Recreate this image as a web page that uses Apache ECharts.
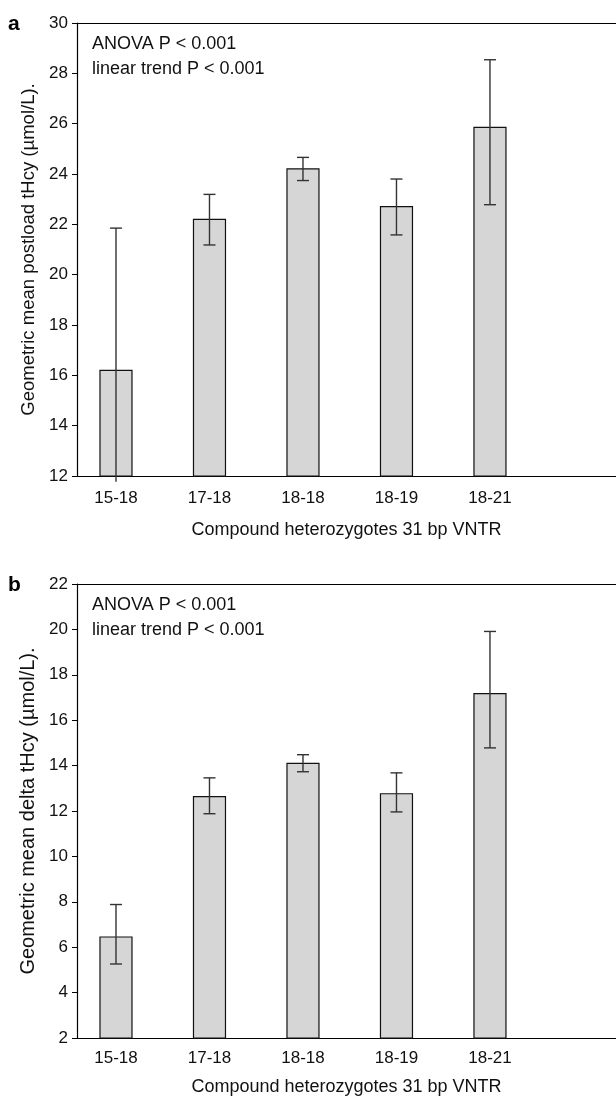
<!DOCTYPE html>
<html>
<head>
<meta charset="utf-8">
<script src="https://cdn.jsdelivr.net/npm/echarts@6/dist/echarts.min.js"></script>
<style>
html,body{margin:0;padding:0;background:#fff;}
#main{width:616px;height:1098px;}
</style>
</head>
<body>
<div id="main"></div>
<script>
// ---- data ----
const categories = ['15-18', '17-18', '18-18', '18-19', '18-21'];
const xPositions = [1, 2, 3, 4, 5];

// Panel a: geometric mean postload tHcy
const postloadMean  = [16.2, 22.2, 24.2, 22.7, 25.85];
const postloadLower = [11.77, 21.18, 23.74, 21.58, 22.78];
const postloadUpper = [21.85, 23.19, 24.66, 23.80, 28.54];

// Panel b: geometric mean delta tHcy
const deltaMean  = [6.45, 12.63, 14.10, 12.76, 17.17];
const deltaLower = [5.26, 11.88, 13.73, 11.96, 14.78];
const deltaUpper = [7.88, 13.46, 14.48, 13.68, 19.91];

const yTicksA = { min: 12, max: 30, interval: 2 };
const yTicksB = { min: 2, max: 22, interval: 2 };

const statLines = ['ANOVA P < 0.001', 'linear trend P < 0.001'];
const xName = 'Compound heterozygotes 31 bp VNTR';
const yNameA = 'Geometric mean postload tHcy (µmol/L).';
const yNameB = 'Geometric mean delta tHcy (µmol/L).';

// ---- chart ----
const FONT = '"Liberation Sans", Arial, Helvetica, sans-serif';
const X_MIN = 0.583, X_MAX = 6.348;
const chart = echarts.init(document.getElementById('main'), null, {renderer: 'canvas'});

function xAxisDef(gridIndex, labelMargin, nameGap) {
  return {
    type: 'value', gridIndex, min: X_MIN, max: X_MAX, scale: true,
    splitLine: {show: false},
    axisLine: {show: true, onZero: false, lineStyle: {color: '#000', width: 1.2}},
    axisTick: {show: false},
    axisLabel: {
      customValues: xPositions,
      formatter: v => categories[xPositions.indexOf(Math.round(v))] || '',
      color: '#111', fontFamily: FONT, fontSize: 17, margin: labelMargin
    },
    name: xName, nameLocation: 'middle', nameGap,
    nameTextStyle: {color: '#111', fontFamily: FONT, fontSize: 18}
  };
}
function topFrameAxis(gridIndex) {
  return {
    type: 'value', gridIndex, position: 'top', min: X_MIN, max: X_MAX, scale: true,
    splitLine: {show: false},
    axisLine: {show: true, onZero: false, lineStyle: {color: '#000', width: 1.2}},
    axisTick: {show: false}, axisLabel: {show: false}
  };
}
function yAxisDef(gridIndex, t, name, nameSize, nameGap) {
  return {
    type: 'value', gridIndex, min: t.min, max: t.max, interval: t.interval,
    splitLine: {show: false},
    axisLine: {show: true, lineStyle: {color: '#000', width: 1.2}},
    axisTick: {show: true, length: 5, lineStyle: {color: '#000', width: 1}},
    axisLabel: {color: '#111', fontFamily: FONT, fontSize: 17, margin: 9},
    name, nameLocation: 'middle', nameGap,
    nameTextStyle: {color: '#111', fontFamily: FONT, fontSize: nameSize}
  };
}
function barSeries(idx, means, axisMin) {
  return {
    type: 'custom', xAxisIndex: idx, yAxisIndex: idx, z: 2, silent: true,
    data: xPositions.map((x, i) => [x, means[i]]),
    renderItem: (params, api) => {
      const x = api.value(0), v = api.value(1);
      const top = api.coord([x, v]);
      const base = api.coord([x, axisMin]);
      const w = 32;
      return {
        type: 'rect',
        shape: {x: top[0] - w / 2, y: top[1], width: w, height: base[1] - top[1]},
        style: {fill: '#d6d6d6', stroke: '#111', lineWidth: 1.2}
      };
    }
  };
}
function errSeries(idx, lower, upper, axisMin) {
  return {
    type: 'custom', xAxisIndex: idx, yAxisIndex: idx, clip: false, z: 5, silent: true,
    data: xPositions.map((x, i) => [x, lower[i], upper[i]]),
    renderItem: (params, api) => {
      const x = api.value(0), lo = api.value(1), hi = api.value(2);
      const pLo = api.coord([x, lo]);
      const pHi = api.coord([x, hi]);
      const hw = 6;
      const style = {stroke: '#333', lineWidth: 1.4};
      const children = [
        {type: 'line', shape: {x1: pHi[0], y1: pHi[1], x2: pLo[0], y2: pLo[1]}, style},
        {type: 'line', shape: {x1: pHi[0] - hw, y1: pHi[1], x2: pHi[0] + hw, y2: pHi[1]}, style}
      ];
      if (lo >= axisMin) {
        children.push({type: 'line', shape: {x1: pLo[0] - hw, y1: pLo[1], x2: pLo[0] + hw, y2: pLo[1]}, style});
      }
      return {type: 'group', children};
    }
  };
}
function statText(top, i) {
  return {type: 'text', left: 92, top, style: {text: statLines[i], fill: '#111', font: '18px ' + FONT}};
}

chart.setOption({
  animation: false,
  backgroundColor: '#fff',
  grid: [
    {left: 77, top: 23, right: 0, height: 453},
    {left: 77, top: 584, right: 0, height: 454}
  ],
  xAxis: [xAxisDef(0, 14, 45), xAxisDef(1, 12, 40), topFrameAxis(0), topFrameAxis(1)],
  yAxis: [yAxisDef(0, yTicksA, yNameA, 18.5, 39), yAxisDef(1, yTicksB, yNameB, 20, 39)],
  series: [
    barSeries(0, postloadMean, yTicksA.min), errSeries(0, postloadLower, postloadUpper, yTicksA.min),
    barSeries(1, deltaMean, yTicksB.min), errSeries(1, deltaLower, deltaUpper, yTicksB.min)
  ],
  graphic: [
    {type: 'text', left: 8, top: 14, style: {text: 'a', fill: '#000', font: 'bold 21px ' + FONT}},
    {type: 'text', left: 8, top: 575, style: {text: 'b', fill: '#000', font: 'bold 21px ' + FONT}},
    statText(35, 0), statText(60, 1),
    statText(596, 0), statText(621, 1)
  ]
});
</script>
</body>
</html>
